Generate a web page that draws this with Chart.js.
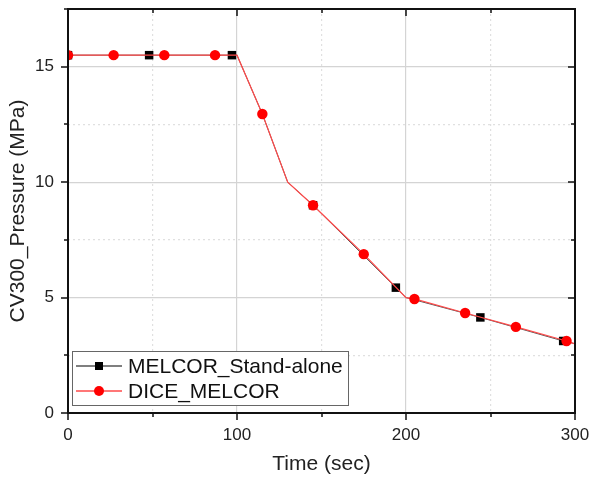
<!DOCTYPE html>
<html>
<head>
<meta charset="utf-8">
<script src="https://cdn.jsdelivr.net/npm/chart.js@4/dist/chart.umd.min.js"></script>
<style>
  html, body { margin: 0; padding: 0; background: #fff; }
  #wrap { width: 592px; height: 477px; }
</style>
</head>
<body>
<div id="wrap"><canvas id="c" width="592" height="477"></canvas></div>
<script>
// MELCOR stand-alone (black squares); marker flag 0 = line vertex only
const melcorX = [0, 48, 97, 100, 115, 130, 145, 194, 200, 244, 293, 300];
const melcorY = [15.5, 15.5, 15.5, 15.5, 12.95, 10.0, 9.0, 5.43, 5.0, 4.14, 3.12, 3.0];
const melcorMark = [1, 1, 1, 0, 0, 0, 1, 1, 0, 1, 1, 0];

// DICE_MELCOR (red circles)
const diceX = [0, 27, 57, 87, 100, 115, 130, 145, 175, 200, 205, 235, 265, 295, 300];
const diceY = [15.5, 15.5, 15.5, 15.5, 15.5, 12.95, 10.0, 9.0, 6.88, 5.0, 4.94, 4.33, 3.73, 3.12, 2.99];
const diceMark = [1, 1, 1, 1, 0, 1, 0, 1, 1, 0, 1, 1, 1, 1, 0];

const xLabels = [0, 100, 200, 300];
const yLabels = [0, 5, 10, 15];

const FONT = 'Liberation Sans, Arial, sans-serif';

function pts(xs, ys) {
  return xs.map((x, i) => ({ x: x, y: ys[i] }));
}

// grid: solid on major ticks, dotted on minor ones
function gridColor(major) {
  return ctx => {
    if (!ctx.tick) return 'rgba(0,0,0,0)';
    return major(ctx.tick.value) ? '#d4d4d4' : '#e0e0e0';
  };
}
function gridDash(major) {
  return ctx => {
    if (!ctx.tick) return [];
    return major(ctx.tick.value) ? [] : [2, 3];
  };
}
const isMajorX = v => xLabels.includes(v);
const isMajorY = v => yLabels.includes(v);

const frame = {
  id: 'frame',
  afterDatasetsDraw(chart) {
    const c = chart.ctx;
    const a = chart.chartArea;
    const xs = chart.scales.x, ys = chart.scales.y;
    c.save();
    c.strokeStyle = '#111';
    c.lineWidth = 2;
    c.strokeRect(a.left, a.top, a.right - a.left, a.bottom - a.top);

    c.lineWidth = 1.5;
    c.beginPath();
    xs.ticks.forEach(t => {
      const px = Math.round(xs.getPixelForValue(t.value));
      const len = isMajorX(t.value) ? 7 : 4;
      c.moveTo(px, a.bottom); c.lineTo(px, a.bottom + len);
      c.moveTo(px, a.top); c.lineTo(px, a.top + len);
    });
    ys.ticks.forEach(t => {
      const py = Math.round(ys.getPixelForValue(t.value));
      const len = isMajorY(t.value) ? 7 : 4;
      c.moveTo(a.left, py); c.lineTo(a.left - len, py);
      c.moveTo(a.right, py); c.lineTo(a.right - len, py);
    });
    c.stroke();

    // legend box, drawn from dataset labels / styles
    const bx = 72, by = 351, bw = 276, bh = 54;
    c.fillStyle = '#fff';
    c.fillRect(bx, by, bw, bh);
    c.strokeStyle = '#666';
    c.lineWidth = 1;
    c.strokeRect(bx + 0.5, by + 0.5, bw, bh);
    const rows = [by + 15, by + 40];
    chart.data.datasets.forEach((ds, i) => {
      const y = rows[i];
      c.strokeStyle = ds.borderColor;
      c.lineWidth = 1.3;
      c.beginPath();
      c.moveTo(bx + 4, y); c.lineTo(bx + 50, y);
      c.stroke();
      c.fillStyle = ds.pointBackgroundColor;
      if (ds.pointStyle === 'rect') {
        c.fillRect(bx + 27 - 4, y - 4, 8, 8);
      } else {
        c.beginPath();
        c.arc(bx + 27, y, 5, 0, Math.PI * 2);
        c.fill();
      }
      c.fillStyle = '#111';
      c.font = '21px ' + FONT;
      c.textBaseline = 'middle';
      c.textAlign = 'left';
      c.fillText(ds.label, bx + 56, y + 1);
    });
    c.restore();
  }
};

new Chart(document.getElementById('c'), {
  type: 'line',
  data: {
    datasets: [
      {
        label: 'MELCOR_Stand-alone',
        data: pts(melcorX, melcorY),
        borderColor: '#555',
        borderWidth: 1,
        pointStyle: 'rect',
        pointRadius: melcorMark.map(m => m ? 6 : 0),
        pointBackgroundColor: '#000',
        pointBorderWidth: 0,
        order: 2
      },
      {
        label: 'DICE_MELCOR',
        data: pts(diceX, diceY),
        borderColor: '#ff4a4a',
        borderWidth: 1.2,
        pointStyle: 'circle',
        pointRadius: diceMark.map(m => m ? 5.2 : 0),
        pointBackgroundColor: '#ff0000',
        pointBorderWidth: 0,
        order: 1
      }
    ]
  },
  options: {
    responsive: false,
    animation: false,
    layout: { padding: { left: 0, right: 17, top: 9, bottom: 0 } },
    plugins: { legend: { display: false }, tooltip: { enabled: false } },
    elements: { line: { tension: 0 } },
    scales: {
      x: {
        type: 'linear',
        min: 0, max: 300,
        afterFit: s => { s.height = 64; s.paddingLeft = 0; s.paddingRight = 0; },
        ticks: {
          stepSize: 50,
          padding: 12,
          color: '#222',
          font: { family: FONT, size: 17 },
          callback: v => (isMajorX(v) ? String(v) : '')
        },
        grid: { drawTicks: false, color: gridColor(isMajorX), lineWidth: 1.2 },
        border: { display: false, dash: gridDash(isMajorX) },
        title: {
          display: true,
          text: 'Time (sec)',
          color: '#222',
          font: { family: FONT, size: 21 },
          padding: { top: 0, bottom: 0 }
        }
      },
      y: {
        type: 'linear',
        min: 0, max: 17.5,
        afterFit: s => { s.width = 68; s.paddingTop = 0; s.paddingBottom = 0; },
        ticks: {
          stepSize: 2.5,
          padding: 14,
          color: '#222',
          font: { family: FONT, size: 17 },
          callback: v => (isMajorY(v) ? String(v) : '')
        },
        grid: { drawTicks: false, color: gridColor(isMajorY), lineWidth: 1.2 },
        border: { display: false, dash: gridDash(isMajorY) },
        title: {
          display: true,
          text: 'CV300_Pressure (MPa)',
          color: '#222',
          font: { family: FONT, size: 21 },
          padding: { top: 6, bottom: 0 }
        }
      }
    }
  },
  plugins: [frame]
});
</script>
</body>
</html>
